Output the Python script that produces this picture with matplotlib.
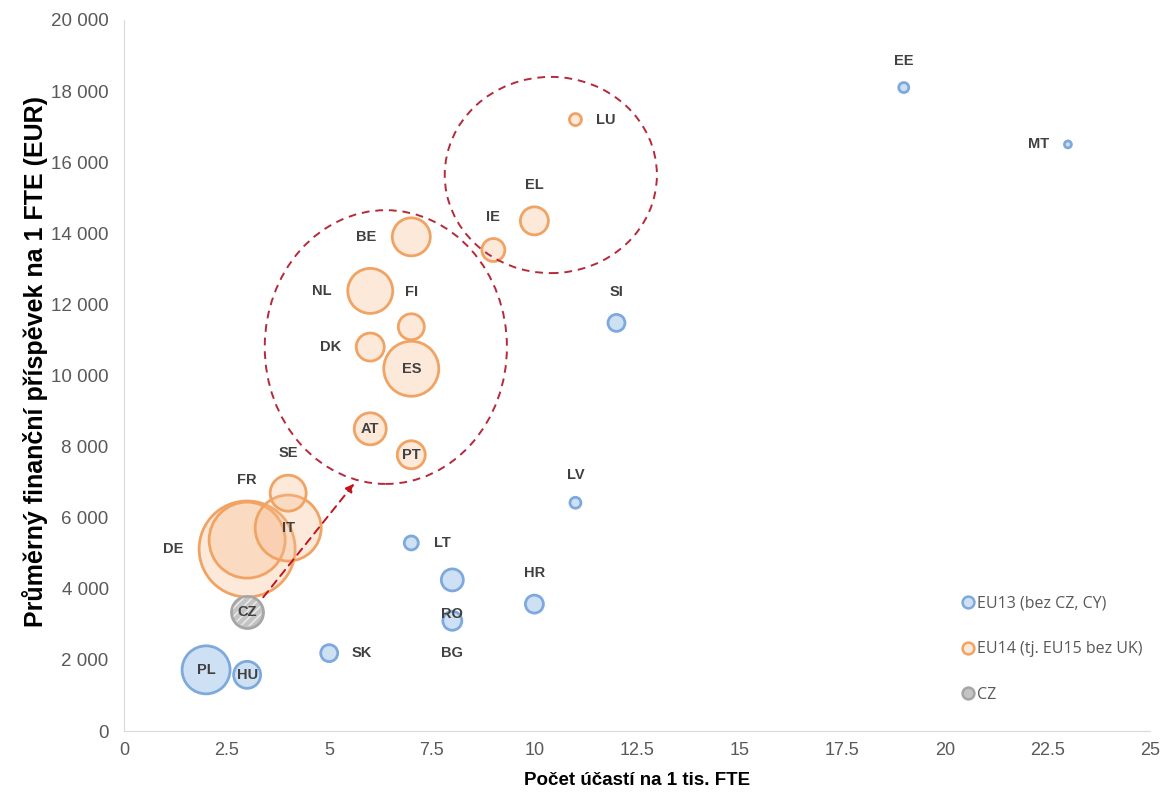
import numpy as np
import matplotlib
matplotlib.use("Agg")
import matplotlib.pyplot as plt
from matplotlib.patches import Ellipse, FancyArrowPatch
from matplotlib.ticker import FuncFormatter, MultipleLocator
from matplotlib.lines import Line2D

# ---------------- data ----------------
eu13_codes = ["EE", "MT", "SI", "LV", "LT", "RO", "BG", "HR", "SK", "PL", "HU"]
eu13_x = [19, 23, 12, 11, 7, 8, 8, 10, 5, 2, 3]
eu13_y = [18100, 16500, 11480, 6420, 5290, 4250, 3100, 3570, 2190, 1720, 1580]
eu13_size = [0.25, 0.12, 0.72, 0.30, 0.49, 1.21, 0.90, 0.81, 0.72, 5.76, 1.82]
eu13_pos = ["above", "left", "above", "above", "right", "below", "below", "above", "right", "center", "center"]

eu14_codes = ["DE", "FR", "IT", "SE", "LU", "EL", "IE", "BE", "NL", "FI", "DK", "ES", "AT", "PT"]
eu14_x = [3, 3, 4, 4, 11, 10, 9, 7, 6, 7, 6, 7, 6, 7]
eu14_y = [5120, 5370, 5710, 6690, 17200, 14350, 13530, 13900, 12380, 11370, 10800, 10190, 8500, 7770]
eu14_size = [23.04, 14.44, 10.89, 3.24, 0.36, 1.96, 1.32, 3.61, 5.06, 1.69, 1.96, 7.56, 2.56, 1.96]
eu14_pos = ["left", "above", "center", "above", "right", "above", "above", "left", "left", "above", "left",
            "center", "center", "center"]

cz_codes = ["CZ"]
cz_x = [3]
cz_y = [3350]
cz_size = [2.56]
cz_pos = ["center"]

legend_labels = ["EU13 (bez CZ, CY)", "EU14 (tj. EU15 bez UK)", "CZ"]
x_label = "Počet účastí na 1 tis. FTE"
y_label = "Průměrný finanční příspěvek na 1 FTE (EUR)"

# annotation shapes (data coordinates)
ellipse_big = dict(center=(6.38, 10800), width=5.9, height=7700)
ellipse_small = dict(center=(10.4, 15640), width=5.17, height=5520)
arrow_start = (3.35, 3700)
arrow_end = (5.65, 7020)

# ---------------- figure ----------------
DPI = 100
fig = plt.figure(figsize=(11.67, 7.96), dpi=DPI)
ax = fig.add_axes([124 / 1167, 1 - 731 / 796, (1150 - 124) / 1167, (731 - 20) / 796])
ax.set_xlim(0, 25)
ax.set_ylim(0, 20000)

PX2PT = 72.0 / DPI
SCALE = 100.0  # size unit -> px^2 of radius


def radius_px(s):
    return np.sqrt(np.asarray(s) * SCALE)


def marker_area(s):
    return (2 * radius_px(s) * PX2PT) ** 2


blue_face = (0.76, 0.85, 0.95, 0.8)
blue_edge = "#7ea9dc"
orange_face = (0.97, 0.74, 0.57, 0.33)
orange_edge = "#f0a363"
gray_face = "#c4c4c4"
gray_edge = "#a6a6a6"

ax.scatter(eu13_x, eu13_y, s=marker_area(eu13_size), facecolor=blue_face, edgecolor=blue_edge,
           linewidth=2, zorder=3)
ax.scatter(eu14_x, eu14_y, s=marker_area(eu14_size), facecolor=orange_face, edgecolor=orange_edge,
           linewidth=2, zorder=3)
ax.scatter(cz_x, cz_y, s=marker_area(cz_size), facecolor=gray_face, edgecolor=gray_edge,
           linewidth=2, zorder=3)
plt.rcParams["hatch.color"] = "#ececec"
ax.scatter(cz_x, cz_y, s=marker_area(cz_size) * 0.8, facecolor="none", edgecolor="#ececec",
           linewidth=0, hatch="////", zorder=3.5)

# ---------------- labels ----------------
label_font = dict(fontsize=10.5, fontweight="bold", color="#404040", family="Liberation Sans")


def put_labels(codes, xs, ys, sizes, positions):
    for c, x, y, s, p in zip(codes, xs, ys, sizes, positions):
        r = float(radius_px(s))
        if p == "above":
            off = (0, (r + 22) * PX2PT)
        elif p == "below":
            off = (0, -(r + 23) * PX2PT)
        elif p == "left":
            off = (-(r + 26) * PX2PT, 0)
        elif p == "right":
            off = ((r + 24) * PX2PT, 0)
        else:
            off = (0, 0)
        ax.annotate(c, (x, y), xytext=off, textcoords="offset points", ha="center", va="center",
                    zorder=5, **label_font)


put_labels(eu13_codes, eu13_x, eu13_y, eu13_size, eu13_pos)
put_labels(eu14_codes, eu14_x, eu14_y, eu14_size, eu14_pos)
put_labels(cz_codes, cz_x, cz_y, cz_size, cz_pos)

# ---------------- dashed ellipses + arrow ----------------
red = "#b5293b"
for e in (ellipse_big, ellipse_small):
    ax.add_patch(Ellipse(e["center"], e["width"], e["height"], fill=False, edgecolor=red,
                         linestyle=(0, (4, 3)), linewidth=1.4, zorder=4))
ax.add_patch(FancyArrowPatch(arrow_start, arrow_end, arrowstyle="-|>", mutation_scale=12,
                             color="#c0141e", linestyle=(0, (4, 3)), linewidth=1.4, zorder=4))

# ---------------- axes styling ----------------
for side in ("top", "right"):
    ax.spines[side].set_visible(False)
ax.spines["left"].set_color("#d9d9d9")
ax.spines["bottom"].set_color("#d9d9d9")
ax.tick_params(length=0, colors="#595959")
ax.tick_params(axis="y", labelsize=13.5, pad=11)
ax.tick_params(axis="x", labelsize=13, pad=8)
ax.xaxis.set_major_locator(MultipleLocator(2.5))
ax.yaxis.set_major_locator(MultipleLocator(2000))
ax.xaxis.set_major_formatter(FuncFormatter(lambda v, p: f"{v:g}"))
ax.yaxis.set_major_formatter(FuncFormatter(lambda v, p: f"{int(v):,}".replace(",", " ")))
for t in ax.get_yticklabels() + ax.get_xticklabels():
    t.set_family("Liberation Sans")

ax.set_xlabel(x_label, fontsize=13.5, fontweight="bold", family="Liberation Sans", color="#000000")
ax.xaxis.set_label_coords(0.5, -0.058)
ax.set_ylabel(y_label, fontsize=18, fontweight="bold", family="Liberation Sans", color="#000000")
ax.yaxis.set_label_coords(-0.074, 0.52)

# ---------------- legend ----------------
handles = [
    Line2D([], [], marker="o", linestyle="none", markersize=8.5, markerfacecolor=blue_face,
           markeredgecolor=blue_edge, markeredgewidth=1.8),
    Line2D([], [], marker="o", linestyle="none", markersize=8.5, markerfacecolor=orange_face,
           markeredgecolor=orange_edge, markeredgewidth=1.8),
    Line2D([], [], marker="o", linestyle="none", markersize=8.5, markerfacecolor=gray_face,
           markeredgecolor=gray_edge, markeredgewidth=1.8),
]
leg = ax.legend(handles, legend_labels, loc="upper left", bbox_to_anchor=(0.815, 0.190),
                borderaxespad=0, borderpad=0, frameon=False,
                handletextpad=0.05, labelspacing=1.85, handlelength=1.0,
                prop=dict(family="Open Sans", size=11.5))
for t in leg.get_texts():
    t.set_color("#595959")

fig.savefig("out.png", dpi=DPI, facecolor="white")
